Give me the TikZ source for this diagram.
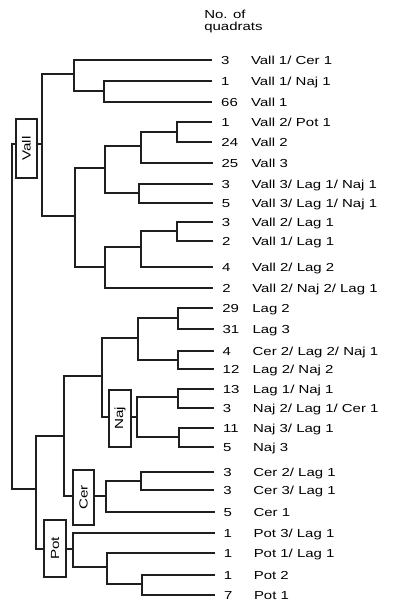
\documentclass[tikz,border=0pt]{standalone}
\usepackage{fontspec}
\newfontfamily\labfont[FakeStretch=1.29]{Liberation Sans}
\newcommand{\leafrow}[4]{%
  \pgfmathsetmacro{\dx}{3*(#2-60)/535}%
  \pgfmathtruncatemacro{\ex}{round(212+\dx)}%
  \coordinate (l#1) at (\ex,#2);
  \node[lbl] (n#1) at ({220+\dx},{#2+4.4}) {#3};
  \node[lbl] (t#1) at ({250+\dx},{#2+4.4}) {#4};
}
\begin{document}
\begin{tikzpicture}[x=1pt,y=-1pt,line width=2pt,line join=miter,line cap=butt,
  draw=black!88,
  lbl/.style={font=\labfont\fontsize{11.6}{14}\selectfont,anchor=base west,inner sep=0pt},
  grpbox/.style={draw=black!88,line width=2pt,inner sep=0pt,font=\labfont\fontsize{11.8}{14}\selectfont}]
\useasboundingbox (0,0) rectangle (400,611);

% header
\node[lbl] (hdr1) at (203.3,18.3) {No. of};
\node[lbl] (hdr2) at (203.3,30.5) {quadrats};

% leaves
\leafrow{1}{60}{3}{Vall 1/ Cer 1}
\leafrow{2}{81}{1}{Vall 1/ Naj 1}
\leafrow{3}{102}{66}{Vall 1}
\leafrow{4}{122}{1}{Vall 2/ Pot 1}
\leafrow{5}{142}{24}{Vall 2}
\leafrow{6}{163}{25}{Vall 3}
\leafrow{7}{184}{3}{Vall 3/ Lag 1/ Naj 1}
\leafrow{8}{203}{5}{Vall 3/ Lag 1/ Naj 1}
\leafrow{9}{222}{3}{Vall 2/ Lag 1}
\leafrow{10}{241}{2}{Vall 1/ Lag 1}
\leafrow{11}{267}{4}{Vall 2/ Lag 2}
\leafrow{12}{288}{2}{Vall 2/ Naj 2/ Lag 1}
\leafrow{13}{308}{29}{Lag 2}
\leafrow{14}{329}{31}{Lag 3}
\leafrow{15}{351}{4}{Cer 2/ Lag 2/ Naj 1}
\leafrow{16}{369}{12}{Lag 2/ Naj 2}
\leafrow{17}{389}{13}{Lag 1/ Naj 1}
\leafrow{18}{408}{3}{Naj 2/ Lag 1/ Cer 1}
\leafrow{19}{428}{11}{Naj 3/ Lag 1}
\leafrow{20}{447}{5}{Naj 3}
\leafrow{21}{472}{3}{Cer 2/ Lag 1}
\leafrow{22}{490}{3}{Cer 3/ Lag 1}
\leafrow{23}{512}{5}{Cer 1}
\leafrow{24}{533}{1}{Pot 3/ Lag 1}
\leafrow{25}{553}{1}{Pot 1/ Lag 1}
\leafrow{26}{575}{1}{Pot 2}
\leafrow{27}{595}{7}{Pot 1}

% internal nodes
\coordinate (A) at (104,91);
\coordinate (B) at (74,74);
\coordinate (C) at (177,132);
\coordinate (D) at (141,146);
\coordinate (E) at (139,193);
\coordinate (F) at (105,168);
\coordinate (G) at (177,231);
\coordinate (H) at (141,247);
\coordinate (I) at (105,267);
\coordinate (J) at (75,216);
\coordinate (V) at (42,144);
\coordinate (L1) at (178,318);
\coordinate (L2) at (178,360);
\coordinate (K) at (138,338);
\coordinate (N1) at (178,397);
\coordinate (N2) at (179,437);
\coordinate (Naj) at (137,417);
\coordinate (M) at (102,376);
\coordinate (C1) at (141,481);
\coordinate (CerN) at (106,496);
\coordinate (O) at (64,436);
\coordinate (P1) at (142,584);
\coordinate (P) at (107,567);
\coordinate (Q) at (73,549);
\coordinate (R) at (36,489);
\coordinate (root) at (12,300);

% group boxes
\node[grpbox,minimum width=21,minimum height=59] (vallbox) at (26.5,148.5) {\rotatebox{90}{Vall}};
\node[grpbox,minimum width=22,minimum height=57] (najbox) at (120,418.5) {\rotatebox{90}{Naj}};
\node[grpbox,minimum width=21,minimum height=55] (cerbox) at (83.5,497.5) {\rotatebox{90}{Cer}};
\node[grpbox,minimum width=22,minimum height=57] (potbox) at (55,548.5) {\rotatebox{90}{Pot}};

% Vall cluster
\draw (l2) -| (A) |- (l3);
\draw (l1) -| (B) |- (A);
\draw (l4) -| (C) |- (l5);
\draw (C) -| (D) |- (l6);
\draw (l7) -| (E) |- (l8);
\draw (D) -| (F) |- (E);
\draw (l9) -| (G) |- (l10);
\draw (G) -| (H) |- (l11);
\draw (H) -| (I) |- (l12);
\draw (F) -| (J) |- (I);
\draw (B) -| (V) |- (J);
\draw (V) -- (vallbox.east |- V);

% root
\draw (vallbox.west |- V) -| (root) |- (R);

% Lag / Naj cluster
\draw (l13) -| (L1) |- (l14);
\draw (l15) -| (L2) |- (l16);
\draw (L1) -| (K) |- (L2);
\draw (l17) -| (N1) |- (l18);
\draw (l19) -| (N2) |- (l20);
\draw (N1) -| (Naj) |- (N2);
\draw (najbox.east |- Naj) -- (Naj);
\draw (K) -| (M) |- (najbox.west |- Naj);

% Cer cluster
\draw (l21) -| (C1) |- (l22);
\draw (C1) -| (CerN) |- (l23);
\draw (cerbox.east |- CerN) -- (CerN);
\draw (M) -| (O) |- (cerbox.west |- CerN);

% Pot cluster
\draw (l26) -| (P1) |- (l27);
\draw (l25) -| (P) |- (P1);
\draw (l24) -| (Q) |- (P);
\draw (potbox.east |- Q) -- (Q);
\draw (O) -| (R) |- (potbox.west |- Q);
\end{tikzpicture}
\end{document}
